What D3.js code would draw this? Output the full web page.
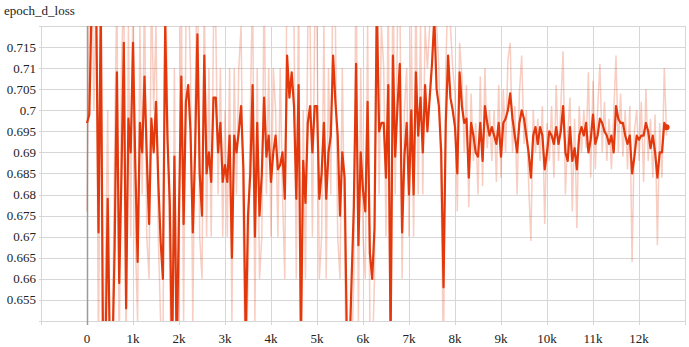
<!DOCTYPE html>
<html>
<head>
<meta charset="utf-8">
<script src="https://cdn.jsdelivr.net/npm/d3@7"></script>
<style>
  body { margin: 0; background: #fff; }
</style>
</head>
<body>
<svg width="689" height="347"></svg>
<script>
// logged every 50 steps, 0 .. 12600
const stepSize = 50;
const lastStep = 12600;

// dark (smoothed) series, one array per 1k steps
const smooth0 = [0.697,0.699,0.725,0.722,0.725,0.671,0.725,0.640,0.640,0.679,0.640,0.640,0.667,0.709,0.659,0.685,0.716,0.653,0.698,0.690];
const smooth1 = [0.716,0.687,0.664,0.697,0.690,0.708,0.689,0.673,0.698,0.690,0.702,0.683,0.669,0.660,0.720,0.693,0.678,0.640,0.689,0.642];
const smooth2 = [0.676,0.708,0.673,0.702,0.706,0.695,0.671,0.690,0.718,0.685,0.675,0.713,0.685,0.690,0.683,0.703,0.703,0.690,0.697,0.683];
const smooth3 = [0.687,0.683,0.694,0.665,0.694,0.690,0.695,0.701,0.686,0.645,0.675,0.685,0.706,0.670,0.697,0.675,0.685,0.703,0.689,0.694];
const smooth4 = [0.683,0.690,0.694,0.686,0.687,0.690,0.679,0.713,0.703,0.709,0.701,0.679,0.706,0.645,0.688,0.678,0.697,0.701,0.690,0.701];
const smooth5 = [0.701,0.679,0.685,0.697,0.679,0.690,0.694,0.713,0.702,0.694,0.675,0.690,0.684,0.645,0.640,0.659,0.677,0.711,0.668,0.690];
const smooth6 = [0.681,0.676,0.702,0.666,0.660,0.672,0.725,0.695,0.697,0.697,0.684,0.706,0.645,0.713,0.689,0.701,0.711,0.671,0.689,0.697];
const smooth7 = [0.680,0.700,0.680,0.709,0.694,0.703,0.690,0.706,0.695,0.703,0.711,0.722,0.705,0.701,0.690,0.658,0.697,0.713,0.703,0.700];
const smooth8 = [0.696,0.685,0.709,0.701,0.697,0.698,0.684,0.697,0.694,0.690,0.689,0.697,0.688,0.701,0.697,0.694,0.696,0.694,0.692,0.697];
const smooth9 = [0.689,0.697,0.698,0.700,0.704,0.698,0.694,0.690,0.697,0.700,0.698,0.694,0.690,0.684,0.694,0.696,0.692,0.696,0.694,0.686];
const smooth10 = [0.690,0.695,0.694,0.692,0.696,0.692,0.695,0.701,0.690,0.688,0.696,0.688,0.691,0.686,0.694,0.696,0.694,0.697,0.690,0.693];
const smooth11 = [0.699,0.692,0.694,0.698,0.697,0.695,0.694,0.692,0.694,0.690,0.701,0.698,0.697,0.697,0.694,0.692,0.694,0.685,0.689,0.694];
const smooth12 = [0.693,0.694,0.694,0.697,0.695,0.691,0.694,0.690,0.684,0.690,0.690,0.697,0.696];

// light (raw) series
const raw0 = [0.676,0.725,0.740,0.700,0.730,0.640,0.730,0.620,0.660,0.700,0.630,0.640,0.690,0.730,0.640,0.710,0.730,0.640,0.720,0.670];
const raw1 = [0.730,0.670,0.650,0.720,0.680,0.730,0.670,0.660,0.730,0.700,0.720,0.670,0.650,0.640,0.740,0.700,0.660,0.620,0.710,0.630];
const raw2 = [0.660,0.730,0.650,0.720,0.730,0.710,0.650,0.700,0.740,0.670,0.660,0.730,0.670,0.710,0.670,0.720,0.720,0.680,0.710,0.670];
const raw3 = [0.700,0.670,0.710,0.650,0.710,0.680,0.710,0.720,0.670,0.630,0.660,0.700,0.730,0.650,0.710,0.660,0.670,0.730,0.680,0.710];
const raw4 = [0.670,0.710,0.700,0.670,0.710,0.680,0.660,0.740,0.720,0.730,0.720,0.660,0.730,0.630,0.700,0.660,0.720,0.720,0.670,0.720];
const raw5 = [0.720,0.660,0.670,0.720,0.660,0.710,0.680,0.740,0.720,0.670,0.660,0.710,0.670,0.620,0.630,0.640,0.660,0.740,0.650,0.710];
const raw6 = [0.670,0.660,0.720,0.650,0.640,0.660,0.750,0.680,0.720,0.710,0.670,0.730,0.620,0.740,0.680,0.720,0.730,0.660,0.700,0.710];
const raw7 = [0.670,0.720,0.670,0.730,0.680,0.720,0.680,0.720,0.710,0.720,0.730,0.750,0.720,0.710,0.680,0.640,0.710,0.730,0.720,0.710];
const raw8 = [0.704,0.676,0.716,0.708,0.690,0.706,0.677,0.704,0.688,0.697,0.680,0.708,0.682,0.710,0.691,0.700,0.688,0.700,0.683,0.706];
const raw9 = [0.684,0.705,0.690,0.712,0.716,0.690,0.701,0.680,0.704,0.713,0.692,0.700,0.683,0.669,0.700,0.690,0.698,0.688,0.701,0.673];
const raw10 = [0.697,0.688,0.701,0.684,0.706,0.688,0.701,0.714,0.680,0.694,0.703,0.676,0.698,0.672,0.701,0.690,0.700,0.691,0.709,0.684];
const raw11 = [0.707,0.686,0.700,0.711,0.690,0.702,0.688,0.698,0.686,0.699,0.713,0.690,0.704,0.689,0.700,0.686,0.701,0.664,0.695,0.700];
const raw12 = [0.688,0.702,0.683,0.705,0.688,0.698,0.684,0.699,0.668,0.697,0.684,0.710,0.694];

const yTicks = [0.655,0.66,0.665,0.67,0.675,0.68,0.685,0.69,0.695,0.7,0.705,0.71,0.715];
const xTicks = [0,1000,2000,3000,4000,5000,6000,7000,8000,9000,10000,11000,12000];

const steps = d3.range(0, lastStep + 1, stepSize);
const smoothVals = [].concat(smooth0, smooth1, smooth2, smooth3, smooth4, smooth5, smooth6, smooth7, smooth8, smooth9, smooth10, smooth11, smooth12);
const rawVals = [].concat(raw0, raw1, raw2, raw3, raw4, raw5, raw6, raw7, raw8, raw9, raw10, raw11, raw12);

const smoothData = steps.map((s, i) => ({ step: s, value: smoothVals[i] }));
const rawData = steps.map((s, i) => ({ step: s, value: rawVals[i] }));

const svg = d3.select("svg");
const plotLeft = 41, plotRight = 685, plotTop = 26, plotBottom = 321;
const serif = "'Liberation Serif'";

const x = d3.scaleLinear().domain([-1000, 13000]).range([plotLeft, plotRight]);
const y = d3.scaleLinear().domain([0.65, 0.72]).range([plotBottom, plotTop]);

// title
svg.append("text")
  .attr("x", 4).attr("y", 15)
  .style("font-family", serif).style("font-size", "13px")
  .attr("fill", "#222")
  .text("epoch_d_loss");

// grid
const grid = svg.append("g");
grid.selectAll("line.h")
  .data(d3.range(0.65, 0.7201, 0.005))
  .enter().append("line")
    .attr("x1", plotLeft - 2).attr("x2", plotRight)
    .attr("y1", d => Math.round(y(d)) + 0.5)
    .attr("y2", d => Math.round(y(d)) + 0.5)
    .attr("stroke", "#d6d6d6");

grid.selectAll("line.v")
  .data(d3.range(-1000, 13001, 1000))
  .enter().append("line")
    .attr("y1", plotTop).attr("y2", plotBottom + 4)
    .attr("x1", d => Math.round(x(d)) + 0.5)
    .attr("x2", d => Math.round(x(d)) + 0.5)
    .attr("stroke", d => d == 0 ? "#9a9a9a" : "#d6d6d6")
    .attr("stroke-width", d => d == 0 ? 1.5 : 1);

// y labels
svg.append("g").selectAll("text")
  .data(yTicks)
  .enter().append("text")
    .attr("x", 36)
    .attr("y", d => y(d) + 4.5)
    .attr("text-anchor", "end")
    .attr("fill", "#222")
    .style("font-family", serif).style("font-size", "13px")
    .text(d => String(+d.toFixed(3)));

// x labels
svg.append("g").selectAll("text")
  .data(xTicks)
  .enter().append("text")
    .attr("x", d => x(d))
    .attr("y", 343)
    .attr("text-anchor", "middle")
    .attr("fill", "#222")
    .style("font-family", serif).style("font-size", "13px")
    .text(d => d == 0 ? "0" : (d / 1000) + "k");

svg.append("clipPath").attr("id", "plot")
  .append("rect").attr("x", plotLeft).attr("y", plotTop)
  .attr("width", plotRight - plotLeft).attr("height", plotBottom - plotTop);

const line = d3.line().x(d => x(d.step)).y(d => y(d.value));

const plot = svg.append("g").attr("clip-path", "url(#plot)");
plot.append("path")
  .datum(rawData)
  .attr("d", line)
  .attr("fill", "none")
  .attr("stroke", "#e2380b")
  .attr("stroke-opacity", 0.25)
  .attr("stroke-width", 1.5);

plot.append("path")
  .datum(smoothData)
  .attr("d", line)
  .attr("fill", "none")
  .attr("stroke", "#e2380b")
  .attr("stroke-width", 2.2)
  .attr("stroke-linejoin", "round");

const last = smoothData[smoothData.length - 1];
plot.append("circle")
  .attr("cx", x(last.step)).attr("cy", y(last.value))
  .attr("r", 3)
  .attr("fill", "#e2380b");
</script>
</body>
</html>
